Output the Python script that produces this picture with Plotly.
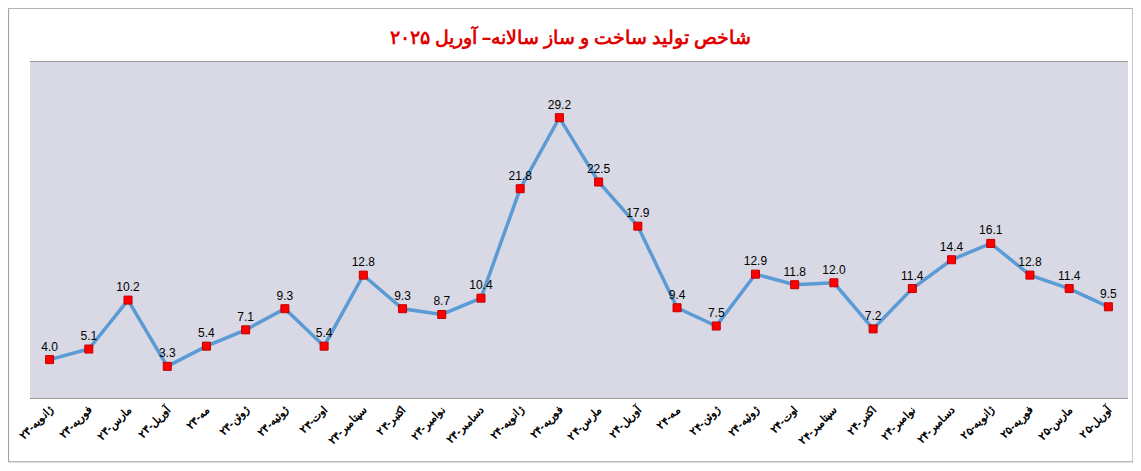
import plotly.graph_objects as go

months = ["ژانویه-۲۳", "فوریه-۲۳", "مارس-۲۳", "آوریل-۲۳", "مه-۲۳", "ژوئن-۲۳", "ژوئیه-۲۳",
          "اوت-۲۳", "سپتامبر-۲۳", "اکتبر-۲۳", "نوامبر-۲۳", "دسامبر-۲۳",
          "ژانویه-۲۴", "فوریه-۲۴", "مارس-۲۴", "آوریل-۲۴", "مه-۲۴", "ژوئن-۲۴", "ژوئیه-۲۴",
          "اوت-۲۴", "سپتامبر-۲۴", "اکتبر-۲۴", "نوامبر-۲۴", "دسامبر-۲۴",
          "ژانویه-۲۵", "فوریه-۲۵", "مارس-۲۵", "آوریل-۲۵"]
values = [4.0, 5.1, 10.2, 3.3, 5.4, 7.1, 9.3, 5.4, 12.8, 9.3, 8.7, 10.4, 21.8, 29.2,
          22.5, 17.9, 9.4, 7.5, 12.9, 11.8, 12.0, 7.2, 11.4, 14.4, 16.1, 12.8, 11.4, 9.5]

x = list(range(len(months)))
fig = go.Figure(go.Scatter(
    x=x, y=values, mode="lines+markers+text",
    line=dict(color="#5b9bd5", width=3.5),
    marker=dict(symbol="square", size=8, color="#ff0000", line=dict(color="#c00000", width=1)),
    text=[f"{v:.1f}" for v in values], textposition="top center",
    textfont=dict(family="Liberation Sans", size=12, color="black"),
    cliponaxis=False, showlegend=False,
))
fig.update_layout(
    width=1125, height=455,
    margin=dict(l=22, r=5, t=54, b=65),
    paper_bgcolor="white", plot_bgcolor="#d8d9e5",
    title=dict(text="<b>شاخص تولید ساخت و ساز سالانه– آوریل ۲۰۲۵</b>", x=0.5, y=0.95,
               xanchor="center", font=dict(family="Noto Sans", size=19, color="#e00000")),
    xaxis=dict(range=[-0.5, 27.5], tickmode="array", tickvals=x,
               ticktext=[f"<b>{m}</b>" for m in months],
               tickangle=-45, showgrid=False, zeroline=False,
               showline=True, linecolor="#999999", mirror=True,
               tickfont=dict(family="Noto Sans", size=11, color="black")),
    yaxis=dict(range=[0, 35], visible=False),
    shapes=[dict(type="rect", xref="paper", yref="paper", x0=-0.0195, x1=1.0045,
                 y0=-0.19, y1=1.16, line=dict(color="#999999", width=1))],
)
fig.write_html("out.html")
